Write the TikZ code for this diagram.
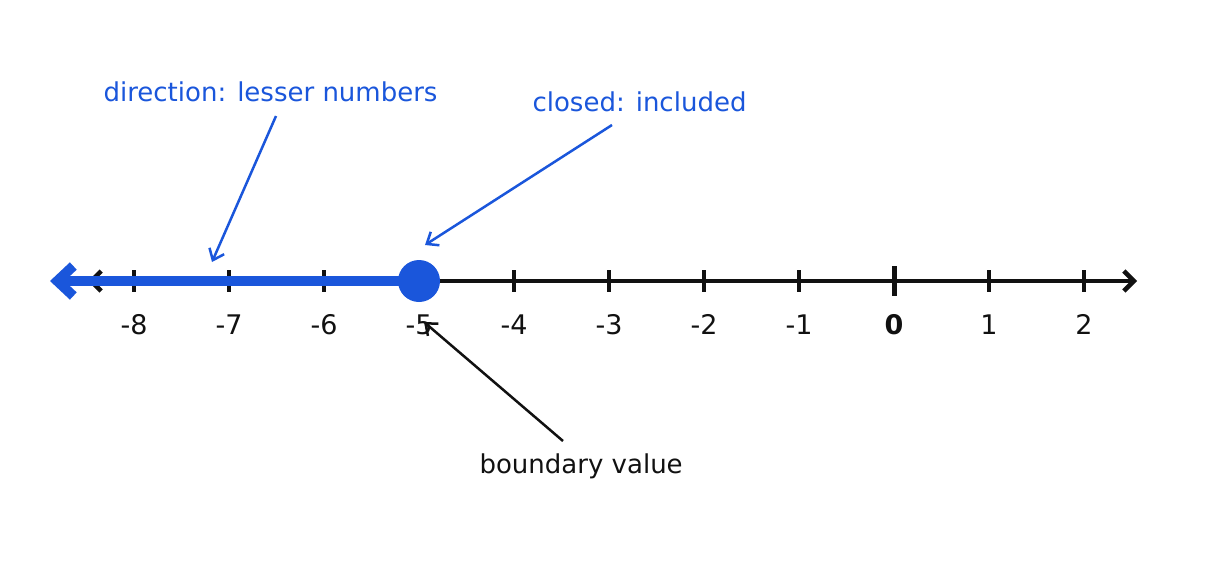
\documentclass[tikz,border=0pt]{standalone}
\usepackage{fontspec}
\setmainfont{DejaVu Sans}
\usetikzlibrary{arrows.meta}
\definecolor{bl}{HTML}{1A56DB}
\definecolor{bk}{HTML}{111111}
\begin{document}
\begin{tikzpicture}[x=1pt,y=-1pt,
  num/.style={font=\fontsize{27}{30}\selectfont,text=bk,anchor=base},
  ann/.style={font=\fontsize{26}{30}\selectfont,text=bl},
  tick/.style={line width=3.5pt,bk},
  pointer/.style={line width=2.5pt,-{Straight Barb[length=10pt,width=16pt]}}]
\useasboundingbox (0,0) rectangle (1218,563);
\coordinate (L) at (88,281); \coordinate (R) at (1137,281);
\draw[line width=4.5pt,bk,-{Straight Barb[length=10pt,width=20pt]}] (419,281) -- (R);
\draw[line width=4.5pt,bk,-{Straight Barb[length=10pt,width=20pt]}] (419,281) -- (L);
\foreach \v [count=\i from 0] in {-8,...,2}{
  \pgfmathsetmacro\xx{134+95*\i}
  \ifnum\v=0
    \draw[line width=5pt,bk] (\xx,266) -- (\xx,296);
    \node[num,font=\fontsize{27}{30}\selectfont\bfseries] (n\i) at (\xx,334) {0};
  \else
    \draw[tick] (\xx,270) -- (\xx,292);
    \node[num] (n\i) at (\xx,334) {\v};
  \fi}
\draw[line width=10pt,bl,-{Straight Barb[length=16pt,width=30pt]}] (419,281) -- (50,281);
\node[circle,fill=bl,minimum size=42pt,inner sep=0] (dot) at (419,281) {};
\node[ann,anchor=base west] (d) at (100,101) {direction: lesser numbers};
\node[ann,anchor=base west] (c) at (529,111) {closed: included};
\node[font=\fontsize{26}{30}\selectfont,text=bk,anchor=base west] (b) at (476,473) {boundary value};
\coordinate (d1) at (276,116); \coordinate (d2) at (212,262);
\coordinate (c1) at (612,125); \coordinate (c2) at (425,245);
\coordinate (b1) at (563,441); \coordinate (b2) at (424,322);
\draw[pointer,bl] (d1) -- (d2);
\draw[pointer,bl] (c1) -- (c2);
\draw[pointer,bk] (b1) -- (b2);
\end{tikzpicture}
\end{document}
